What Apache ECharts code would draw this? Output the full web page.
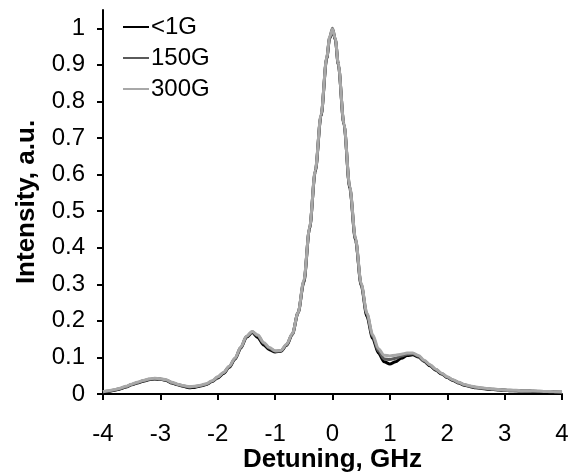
<!DOCTYPE html>
<html>
<head>
<meta charset="utf-8">
<script src="https://cdn.jsdelivr.net/npm/echarts@6/dist/echarts.min.js"></script>
<style>html,body{margin:0;padding:0;background:#fff}#c{width:572px;height:473px}</style>
</head>
<body>
<div id="c"></div>
<script>
var seriesNames = ['<1G', '150G', '300G'];
var yTicks = [0, 0.1, 0.2, 0.3, 0.4, 0.5, 0.6, 0.7, 0.8, 0.9, 1];
var xs = [-4.0,-3.9,-3.8,-3.7,-3.6,-3.5,-3.4,-3.3,-3.2,-3.1,-3.0,-2.9,-2.8,-2.7,-2.6,-2.5,-2.4,-2.3,-2.2,-2.1,
  -2.0,-1.9,-1.8,-1.7,-1.6,-1.5,-1.4,-1.3,-1.2,-1.1,-1.0,-0.9,-0.8,-0.7,-0.6,-0.5,-0.4,-0.3,-0.2,-0.1,-0.05,
  0.0,0.05,0.1,0.2,0.3,0.4,0.5,0.6,0.7,0.8,0.9,1.0,1.1,1.2,1.3,1.4,1.5,1.6,1.7,1.8,1.9,
  2.0,2.1,2.2,2.3,2.4,2.5,2.6,2.7,2.8,2.9,3.0,3.1,3.2,3.3,3.4,3.5,3.6,3.7,3.8,3.9,4.0];
var yLow = [0.005,0.007,0.010,0.014,0.019,0.025,0.030,0.035,0.039,0.041,0.040,0.037,0.030,0.025,0.021,0.017,0.018,0.022,0.026,0.034,
  0.044,0.056,0.073,0.095,0.125,0.155,0.168,0.154,0.134,0.121,0.115,0.117,0.133,0.163,0.222,0.305,0.452,0.608,0.760,0.918,0.972,
  0.995,0.968,0.902,0.737,0.563,0.421,0.297,0.212,0.152,0.112,0.088,0.082,0.088,0.098,0.105,0.107,0.101,0.089,0.077,0.065,0.055,
  0.045,0.037,0.030,0.024,0.020,0.017,0.015,0.013,0.012,0.011,0.010,0.009,0.009,0.008,0.008,0.007,0.007,0.006,0.006,0.005,0.005];
var yMid = [0.006,0.008,0.011,0.015,0.020,0.026,0.031,0.036,0.040,0.042,0.041,0.038,0.031,0.026,0.022,0.019,0.020,0.023,0.027,0.035,
  0.046,0.058,0.075,0.097,0.127,0.157,0.170,0.159,0.139,0.125,0.117,0.118,0.135,0.164,0.222,0.308,0.453,0.610,0.762,0.920,0.975,
  1.000,0.970,0.902,0.737,0.566,0.424,0.300,0.218,0.158,0.118,0.096,0.094,0.098,0.104,0.109,0.110,0.103,0.090,0.079,0.067,0.056,
  0.046,0.038,0.031,0.025,0.021,0.018,0.016,0.014,0.013,0.012,0.011,0.010,0.009,0.009,0.008,0.008,0.007,0.007,0.006,0.006,0.005];
var yHigh = [0.006,0.009,0.012,0.016,0.021,0.027,0.032,0.037,0.041,0.043,0.042,0.039,0.032,0.027,0.023,0.020,0.021,0.024,0.028,0.036,
  0.047,0.059,0.076,0.098,0.128,0.158,0.171,0.161,0.141,0.127,0.118,0.119,0.136,0.165,0.223,0.310,0.455,0.612,0.764,0.921,0.976,
  0.998,0.971,0.904,0.739,0.568,0.426,0.302,0.221,0.162,0.124,0.106,0.104,0.106,0.109,0.112,0.112,0.105,0.092,0.080,0.068,0.057,
  0.047,0.039,0.032,0.026,0.022,0.019,0.017,0.015,0.014,0.012,0.011,0.010,0.010,0.009,0.009,0.008,0.008,0.007,0.007,0.006,0.006];
var colors = ['#000000', '#5a5a5a', '#a8a8a8'];

function pairs(ys) { return xs.map(function (x, i) { return [x, ys[i]]; }); }
var allY = [yLow, yMid, yHigh];

var chart = echarts.init(document.getElementById('c'), null, { renderer: 'canvas' });
var font = '"Liberation Sans", Arial, sans-serif';
chart.setOption({
  animation: false,
  backgroundColor: '#ffffff',
  grid: { left: 103, right: 10, top: 10, bottom: 79, containLabel: false, outerBoundsMode: 'none' },
  legend: {
    orient: 'vertical', left: 118, top: 10,
    itemWidth: 26, itemHeight: 22, itemGap: 7,
    textStyle: { fontFamily: font, fontSize: 24, lineHeight: 24, color: '#000', padding: [0, 0, 0, -3] },
    data: seriesNames.map(function (n) { return { name: n, icon: 'path://M0,10L26,10L26,12L0,12Z' }; })
  },
  xAxis: {
    type: 'value', min: -4, max: 4, interval: 1,
    name: 'Detuning, GHz', nameLocation: 'middle', nameGap: 53, nameMoveOverlap: false,
    nameTextStyle: { fontFamily: font, fontSize: 26, lineHeight: 26, fontWeight: 'bold', color: '#000', verticalAlign: 'top' },
    axisLine: { show: true, onZero: false, lineStyle: { color: '#000', width: 2 } },
    axisTick: { show: true, inside: false, length: 6, lineStyle: { color: '#000', width: 2 } },
    axisLabel: { fontFamily: font, fontSize: 24, color: '#000', margin: 28 },
    splitLine: { show: false }
  },
  yAxis: {
    type: 'value', min: 0, max: 1.05,
    name: 'Intensity, a.u.', nameLocation: 'middle', nameGap: 63, nameMoveOverlap: false,
    nameTextStyle: { fontFamily: font, fontSize: 26, fontWeight: 'bold', color: '#000' },
    axisLine: { show: true, onZero: false, lineStyle: { color: '#000', width: 2 } },
    axisTick: { show: true, inside: false, length: 6, customValues: yTicks, lineStyle: { color: '#000', width: 2 } },
    axisLabel: { fontFamily: font, fontSize: 24, color: '#000', margin: 18, customValues: yTicks,
      formatter: function (v) { return String(Math.round(v * 10) / 10); } },
    splitLine: { show: false }
  },
  series: seriesNames.map(function (n, i) {
    return {
      name: n, type: 'line', data: pairs(allY[i]),
      symbol: 'none', smooth: 0.3, smoothMonotone: 'x',
      lineStyle: { color: colors[i], width: 3 },
      itemStyle: { color: colors[i] },
      z: 2 + i
    };
  })
});
</script>
</body>
</html>
